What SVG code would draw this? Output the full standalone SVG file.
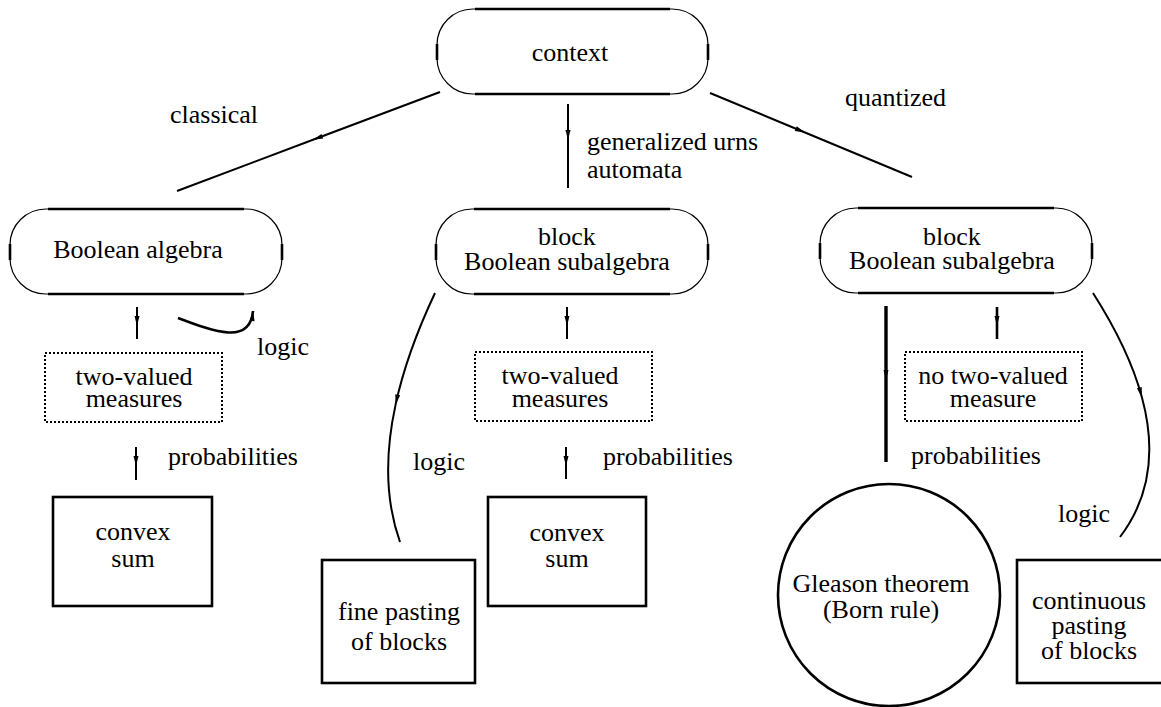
<svg xmlns="http://www.w3.org/2000/svg" width="1161" height="707" viewBox="0 0 1161 707">
<style>
text{font-family:"Liberation Serif","Times New Roman",serif;font-size:26px;fill:#000}
.m{text-anchor:middle}
.rr{fill:none;stroke:#000;stroke-width:1.2}
.rt{fill:none;stroke:#000;stroke-width:2.6}
.box{fill:none;stroke:#000;stroke-width:2.6}
.dot{fill:none;stroke:#000;stroke-width:2;stroke-dasharray:2 2}
.c{fill:none;stroke:#000;stroke-width:2}
.ct{fill:none;stroke:#000;stroke-width:2.6}
.am{marker-mid:url(#ah)}
.ae{marker-end:url(#ah)}
</style>
<defs>
<marker id="ah" markerUnits="userSpaceOnUse" markerWidth="12" markerHeight="8" refX="10" refY="2.5" orient="auto" overflow="visible">
<path d="M0,0 L10,2.5 L0,5 Z" fill="#000"/>
</marker>
</defs>

<g id="connectors">
<path class="c am" d="M440,92 L313,139.8 L177,191"/>
<path class="c am" d="M568,104 L568,140 L568,188"/>
<path class="c am" d="M710,93 L805,132.5 L912,177"/>
<path class="c am" d="M137,307 L137,326 L137,339"/>
<path class="ct ae" d="M178,318 C215,332 250,345 253,311"/>
<path class="c am" d="M136,447 L136,466 L136,480"/>
<path class="c am" d="M435,293 Q406.8,352.8 395.6,404.6 Q378.7,482.3 400,542"/>
<path class="c am" d="M567,307 L567,326 L567,339"/>
<path class="c am" d="M566,447 L566,466 L566,479"/>
<path class="c am" style="stroke-width:3.4" d="M886,306 L886,380 L886,462"/>
<path class="ct am" d="M997,307 L997,326 L997,339"/>
<path class="c am" d="M1093,293 Q1128.9,349.2 1141.9,397.2 Q1164.1,479 1120,537"/>
</g>

<g id="labels">
<text x="170" y="123">classical</text>
<text x="587" y="150">generalized urns</text>
<text x="587" y="178">automata</text>
<text x="845" y="106">quantized</text>
<text x="257" y="355">logic</text>
<text x="168" y="465">probabilities</text>
<text x="413" y="470">logic</text>
<text x="603" y="465">probabilities</text>
<text x="911" y="464">probabilities</text>
<text x="1058" y="522">logic</text>
</g>

<g id="context">
<rect class="rr" x="437" y="9" width="271" height="85" rx="36"/>
<path class="rt" d="M475,9 H670 M475,94 H670 M437,44 V60 M708,44 V60"/>
<text class="m" x="570" y="61">context</text>
</g>

<g id="boolean-algebra">
<rect class="rr" x="10" y="209" width="272" height="85" rx="36"/>
<path class="rt" d="M48,209 H244 M48,294 H244 M10,244 V260 M282,244 V260"/>
<text class="m" x="138" y="258">Boolean algebra</text>
</g>

<g id="block-middle">
<rect class="rr" x="436" y="209" width="272" height="85" rx="36"/>
<path class="rt" d="M474,209 H670 M474,294 H670 M436,244 V260 M708,244 V260"/>
<text class="m" x="567" y="245">block</text>
<text class="m" x="567" y="270">Boolean subalgebra</text>
</g>

<g id="block-right">
<rect class="rr" x="820" y="208" width="272" height="85" rx="36"/>
<path class="rt" d="M858,208 H1054 M858,293 H1054 M820,243 V259 M1092,243 V259"/>
<text class="m" x="952" y="245">block</text>
<text class="m" x="952" y="269">Boolean subalgebra</text>
</g>

<g id="two-valued-left">
<rect class="dot" x="45" y="353" width="177" height="69"/>
<text class="m" x="134" y="385">two-valued</text>
<text class="m" x="134" y="407">measures</text>
</g>

<g id="two-valued-middle">
<rect class="dot" x="475" y="352" width="177" height="69"/>
<text class="m" x="560" y="384">two-valued</text>
<text class="m" x="560" y="407">measures</text>
</g>

<g id="no-two-valued">
<rect class="dot" x="905" y="352" width="177" height="69"/>
<text class="m" x="993" y="384">no two-valued</text>
<text class="m" x="993" y="407">measure</text>
</g>

<g id="convex-left">
<rect class="box" x="53" y="497" width="159" height="109"/>
<text class="m" x="133" y="540">convex</text>
<text class="m" x="133" y="567">sum</text>
</g>

<g id="convex-middle">
<rect class="box" x="488" y="497" width="158" height="109"/>
<text class="m" x="567" y="541">convex</text>
<text class="m" x="567" y="567">sum</text>
</g>

<g id="fine-pasting">
<rect class="box" x="322" y="560" width="153" height="123"/>
<text class="m" x="399" y="620">fine pasting</text>
<text class="m" x="399" y="650">of blocks</text>
</g>

<g id="gleason">
<circle class="box" cx="889" cy="595" r="111"/>
<text class="m" x="881" y="592">Gleason theorem</text>
<text class="m" x="881" y="618">(Born rule)</text>
</g>

<g id="continuous-pasting">
<rect class="box" x="1017" y="560" width="160" height="123"/>
<text class="m" x="1089" y="609">continuous</text>
<text class="m" x="1089" y="634">pasting</text>
<text class="m" x="1089" y="659">of blocks</text>
</g>
</svg>
